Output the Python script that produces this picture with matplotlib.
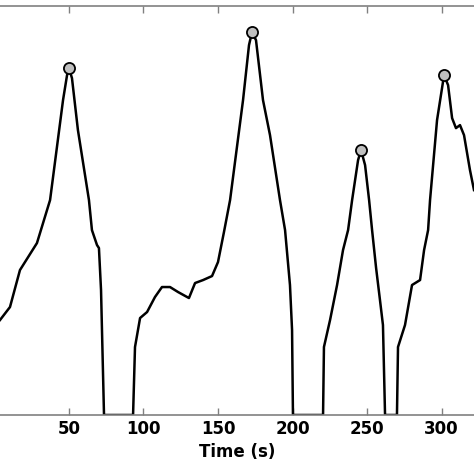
import matplotlib.pyplot as plt

# signal trace (arbitrary units)
time = [3.7, 10.4, 17.1, 28.5, 37.3, 46.0, 48.7, 50.0, 52.0, 56.0, 63.4, 65.4, 68.8, 70.1, 71.5, 73.5,
        93.0, 94.3, 97.7, 102.4, 107.7, 112.4, 117.8, 123.2, 130.5, 134.6, 140.0, 146.0, 150.0, 154.0,
        158.1, 166.8, 170.8, 172.8, 175.5, 180.2, 184.9, 191.6, 195.0, 198.3, 199.7, 200.3,
        220.5, 221.1, 225.2, 229.9, 233.9, 237.3, 240.0, 244.0, 246.0, 248.7, 251.4, 253.4, 256.1,
        258.7, 260.7, 262.1, 270.1, 270.8, 275.5, 280.2, 285.6, 288.3, 291.0, 292.3, 297.0, 301.7,
        304.4, 307.1, 309.7, 312.4, 315.1, 319.1, 321.8]
signal = [95, 108, 145, 172, 215, 315, 340, 347, 337, 285, 215, 185, 170, 167, 125, 0,
          0, 68, 97, 103, 118, 128, 128, 123, 117, 132, 135, 139, 153, 183,
          215, 315, 370, 383, 375, 315, 280, 215, 185, 130, 85, 0,
          0, 68, 95, 130, 165, 185, 215, 255, 265, 250, 215, 185, 147,
          115, 90, 0, 0, 68, 90, 130, 135, 165, 185, 215, 295, 340,
          330, 297, 287, 290, 280, 245, 225]

peak_time = [50.0, 172.8, 246.0, 301.7]
peak_signal = [347, 383, 265, 340]

fig = plt.figure(figsize=(4.74, 4.74), dpi=100)
ax = fig.add_axes([0, 0.1245, 1, 0.8625])
ax.plot(time, signal, color="black", linewidth=1.8)
ax.plot(peak_time, peak_signal, "o", markersize=8, markerfacecolor="#c0c0c0",
        markeredgecolor="black", markeredgewidth=1.3)

ax.set_xlim(3.7, 321.8)
ax.set_ylim(0, 409)
ax.set_xticks([50, 100, 150, 200, 250, 300])
ax.set_yticks([])
ax.tick_params(axis="x", direction="in", top=True, length=5, color="#808080", width=1)
for lbl in ax.get_xticklabels():
    lbl.set_fontweight("bold")
    lbl.set_fontsize(12)
for s in ["left", "right"]:
    ax.spines[s].set_visible(False)
for s in ["top", "bottom"]:
    ax.spines[s].set_color("#808080")
    ax.spines[s].set_linewidth(1.2)
ax.set_xlabel("Time (s)", fontweight="bold", fontsize=12, labelpad=4)

fig.savefig("out.png", dpi=100)
